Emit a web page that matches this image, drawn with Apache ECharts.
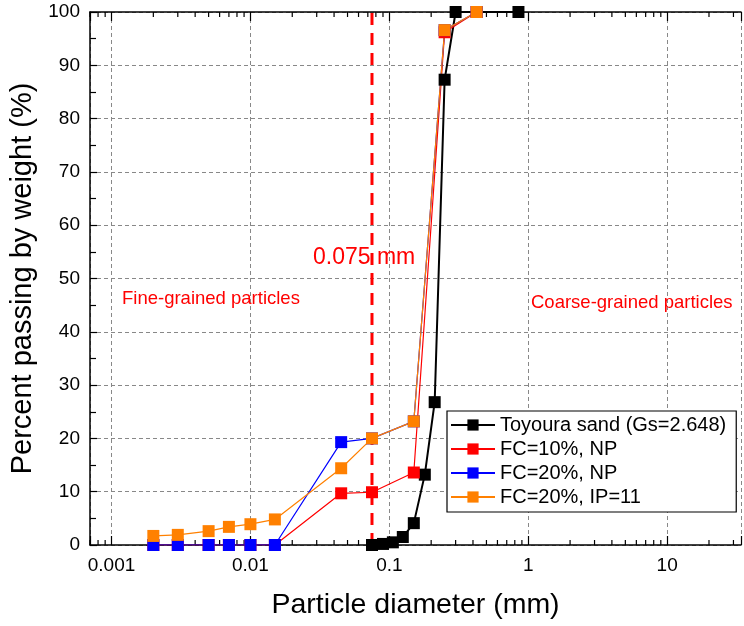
<!DOCTYPE html>
<html>
<head>
<meta charset="utf-8">
<title>Particle size distribution</title>
<script src="https://cdn.jsdelivr.net/npm/echarts@6/dist/echarts.min.js"></script>
<style>
  html, body { margin: 0; padding: 0; background: #fff; }
  #chart { width: 744px; height: 626px; }
</style>
</head>
<body>
<div id="chart"></div>
<script>
  // grain sizes (mm) and percent passing
  var sandDiameter = [0.075, 0.09, 0.106, 0.125, 0.15, 0.18, 0.212, 0.25, 0.3, 0.85];
  var sandPassing = [0, 0.2, 0.5, 1.5, 4.1, 13.2, 26.8, 87.3, 100, 100];

  var mixDiameter = [0.002, 0.003, 0.005, 0.007, 0.01, 0.015, 0.045, 0.075, 0.15, 0.25, 0.425];
  var fc10np = [0, 0, 0, 0, 0, 0, 9.7, 9.9, 13.6, 96.2, 100];
  var fc20np = [0, 0, 0, 0, 0, 0, 19.3, 20.0, 23.2, 96.6, 100];
  var fc20ip = [1.7, 1.9, 2.6, 3.4, 3.9, 4.8, 14.4, 20.0, 23.2, 96.6, 100];

  var seriesNames = ['Toyoura sand (Gs=2.648)', 'FC=10%, NP', 'FC=20%, NP', 'FC=20%, IP=11'];
  var xTickLabels = ['0.001', '0.01', '0.1', '1', '10'];
  var xMinorTicks = [0.0007, 0.0008, 0.0009,
    0.002, 0.003, 0.004, 0.005, 0.006, 0.007, 0.008, 0.009,
    0.02, 0.03, 0.04, 0.05, 0.06, 0.07, 0.08, 0.09,
    0.2, 0.3, 0.4, 0.5, 0.6, 0.7, 0.8, 0.9,
    2, 3, 4, 5, 6, 7, 8, 9, 20, 30];
  var sieveLimit = 0.075;

  function pairs(xs, ys) {
    return xs.map(function (x, i) { return [x, ys[i]]; });
  }

  var font = "'Liberation Sans', Arial, sans-serif";
  var chart = echarts.init(document.getElementById('chart'), null, {renderer: 'canvas'});

  function curve(name, color, width, xs, ys) {
    return {
      name: name,
      type: 'line',
      data: pairs(xs, ys),
      symbol: 'rect',
      symbolSize: 12,
      color: color,
      itemStyle: {color: color},
      lineStyle: {color: color, width: width},
      animation: false,
      z: 3
    };
  }

  var xAxisBase = {
    type: 'log',
    logBase: 10,
    min: 0.0007,
    max: 34,
    axisLine: {show: true, lineStyle: {color: '#000', width: 1.5}},
    axisTick: {show: true, inside: true, length: 9, lineStyle: {color: '#000', width: 1.2}},
    minorTick: {show: false}
  };

  chart.setOption({
    backgroundColor: '#fff',
    animation: false,
    textStyle: {fontFamily: font},
    grid: {left: 90, right: 0, top: 12, bottom: 81, containLabel: false},
    xAxis: [
      Object.assign({}, xAxisBase, {
        position: 'bottom',
        name: 'Particle diameter (mm)',
        nameLocation: 'middle',
        nameGap: 46,
        nameTextStyle: {fontSize: 28.5, color: '#000', fontFamily: font},
        axisLabel: {
          fontSize: 19, color: '#000', margin: 11, fontFamily: font,
          formatter: function (v) {
            var p = Math.log10(v);
            if (Math.abs(p - Math.round(p)) > 1e-6) return '';
            return xTickLabels[Math.round(p) + 3] || '';
          }
        },
        splitLine: {show: true, lineStyle: {color: '#888', type: [4, 3], width: 1}}
      }),
      Object.assign({}, xAxisBase, {
        position: 'top',
        axisLabel: {show: false},
        splitLine: {show: false}
      })
    ],
    yAxis: {
      type: 'value',
      min: 0,
      max: 100,
      interval: 10,
      name: 'Percent passing by weight (%)',
      nameLocation: 'middle',
      nameGap: 40,
      nameTextStyle: {fontSize: 29, color: '#000', fontFamily: font},
      axisLine: {show: true, lineStyle: {color: '#000', width: 1.5}},
      axisTick: {show: true, inside: true, length: 7, lineStyle: {color: '#000', width: 1.2}},
      minorTick: {show: true, splitNumber: 2, length: 6, lineStyle: {color: '#000', width: 1.2}},
      axisLabel: {fontSize: 19, color: '#000', margin: 10, fontFamily: font},
      splitLine: {show: true, lineStyle: {color: '#888', type: [4, 3], width: 1}}
    },
    legend: {
      data: seriesNames,
      orient: 'vertical',
      left: 447,
      top: 411,
      width: 282,
      padding: [4, 10, 5, 3],
      itemGap: 4,
      itemWidth: 44,
      itemHeight: 14,
      borderColor: '#000',
      borderWidth: 1.2,
      borderRadius: 0,
      backgroundColor: '#fff',
      textStyle: {fontSize: 20, color: '#000', fontFamily: font}
    },
    graphic: [
      {type: 'text', left: 313, top: 246, z: 10,
        style: {text: '0.075 mm', fill: '#f00', fontSize: 23, fontFamily: font}},
      {type: 'text', left: 122, top: 289, z: 10,
        style: {text: 'Fine-grained particles', fill: '#f00', fontSize: 18.5, fontFamily: font}},
      {type: 'text', left: 531, top: 293, z: 10,
        style: {text: 'Coarse-grained particles', fill: '#f00', fontSize: 18.5, fontFamily: font}}
    ],
    series: [
      // minor ticks at 2..9 of each decade, bottom and top
      {
        type: 'custom',
        silent: true,
        clip: false,
        z: 2,
        data: xMinorTicks.map(function (v) { return [v, 0]; }),
        renderItem: function (params, api) {
          var bottom = api.coord([api.value(0), 0]);
          var top = api.coord([api.value(0), 100]);
          var style = {stroke: '#000', lineWidth: 1.2};
          return {
            type: 'group',
            children: [
              {type: 'line', shape: {x1: bottom[0], y1: bottom[1], x2: bottom[0], y2: bottom[1] - 5}, style: style},
              {type: 'line', shape: {x1: top[0], y1: top[1], x2: top[0], y2: top[1] + 5}, style: style}
            ]
          };
        }
      },
      // 0.075 mm boundary
      {
        name: 'limit',
        type: 'line',
        data: [[sieveLimit, 0], [sieveLimit, 100]],
        symbol: 'none',
        silent: true,
        lineStyle: {color: '#f00', width: 3, type: [12, 8]},
        z: 2
      },
      curve(seriesNames[0], '#000', 2, sandDiameter, sandPassing),
      curve(seriesNames[1], '#ff0000', 1.2, mixDiameter, fc10np),
      curve(seriesNames[2], '#0000ff', 1.2, mixDiameter, fc20np),
      curve(seriesNames[3], '#ff8000', 1.2, mixDiameter, fc20ip)
    ]
  });
</script>
</body>
</html>
